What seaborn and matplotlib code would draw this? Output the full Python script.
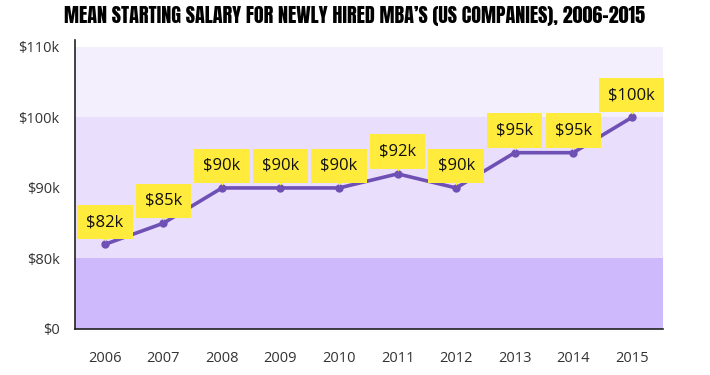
import matplotlib.pyplot as plt
import matplotlib.transforms as mtransforms
import seaborn as sns
import numpy as np
import pandas as pd

years = [2006, 2007, 2008, 2009, 2010, 2011, 2012, 2013, 2014, 2015]
salary = [82000, 85000, 90000, 90000, 90000, 92000, 90000, 95000, 95000, 100000]
labels = ['$82k', '$85k', '$90k', '$90k', '$90k', '$92k', '$90k', '$95k', '$95k', '$100k']
ytick_vals = [0, 80000, 90000, 100000, 110000]
ytick_labels = ['$0', '$80k', '$90k', '$100k', '$110k']

# piecewise scale: 0-80k squeezed into one step, then 10k per step
brk_data = np.array([0, 80000, 90000, 100000, 110000, 120000])
brk_pos = np.array([0, 1, 2, 3, 4, 5])

def fwd(v):
    return np.interp(v, brk_data, brk_pos)

def inv(p):
    return np.interp(p, brk_pos, brk_data)

sns.set_style('white')
plt.rcParams['font.family'] = ['Open Sans', 'DejaVu Sans']

df = pd.DataFrame({'year': years, 'salary': salary})

fig = plt.figure(figsize=(7.1, 3.75), dpi=100)
ax = fig.add_axes([0.1056, 0.1227, 0.828, 0.771])
ax.set_yscale('function', functions=(fwd, inv))

ax.axhspan(0, 80000, color='#cdb9fb', lw=0, zorder=0)
ax.axhspan(80000, 100000, color='#e9dffd', lw=0, zorder=0)
ax.axhspan(100000, 110000, color='#f3effd', lw=0, zorder=0)

sns.lineplot(data=df, x='year', y='salary', ax=ax, color='#6f51b6', lw=2.6,
             marker='o', markersize=6, markeredgewidth=0, zorder=3)

tri = mtransforms.offset_copy(ax.transData, fig=fig, x=0, y=6, units='dots')
ax.scatter(years, salary, marker='v', s=22, color='#ffeb3b', transform=tri, zorder=4, lw=0)
for x, y, t in zip(years, salary, labels):
    ax.annotate(t, (x, y), xytext=(0, 16), textcoords='offset points', ha='center', va='center',
                fontsize=12, color='#111111', zorder=5,
                bbox=dict(boxstyle='square,pad=0.55', fc='#ffeb3b', ec='none'))

ax.set_xlim(2005.49, 2015.53)
ax.set_ylim(0, inv(4.1))
ax.set_xticks(years)
ax.set_xticklabels([str(y) for y in years])
ax.set_yticks(ytick_vals)
ax.set_yticklabels(ytick_labels)
ax.minorticks_off()
ax.set_xlabel('')
ax.set_ylabel('')
ax.tick_params(axis='both', length=7, width=1, color='#222222', labelsize=10.5, labelcolor='#333333', pad=4)
ax.tick_params(axis='x', pad=9)
for s in ['top', 'right']:
    ax.spines[s].set_visible(False)
for s in ['left', 'bottom']:
    ax.spines[s].set_color('#222222')
    ax.spines[s].set_linewidth(1.2)

fig.text(0.5, 0.958, "MEAN STARTING SALARY FOR NEWLY HIRED MBA\u2019S (US COMPANIES), 2006-2015",
         ha='center', va='center', fontsize=14.5,
         family=['Anton', 'Oswald', 'DejaVu Sans'], color='#000000')

fig.savefig('out.png', dpi=100)
